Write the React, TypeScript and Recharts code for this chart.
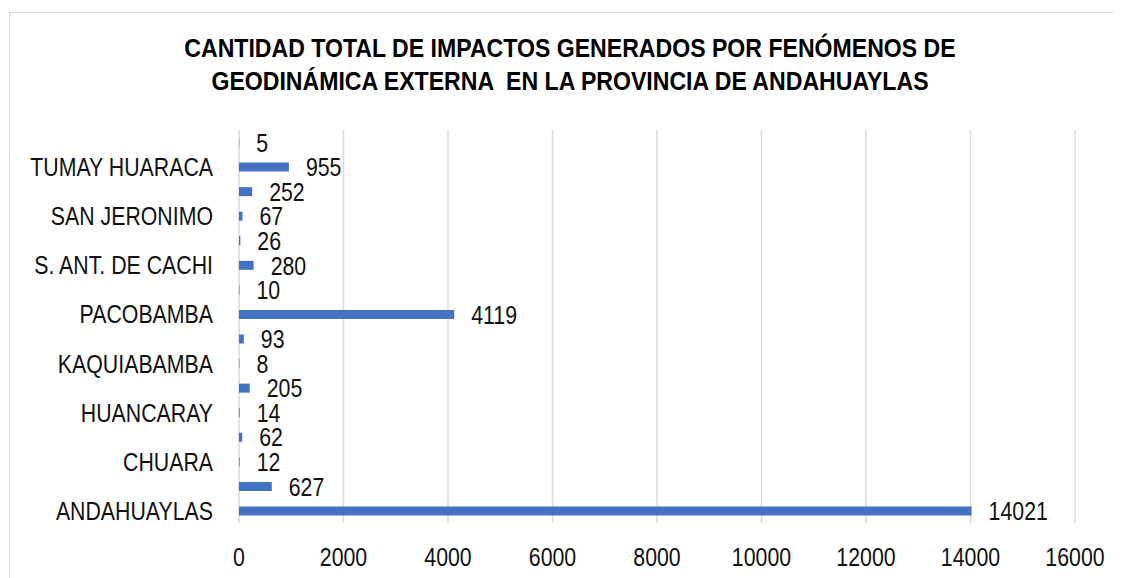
import { Bar, BarChart, CartesianGrid, LabelList, XAxis, YAxis } from 'recharts';

// districts from bottom to top; Excel only labels every other row
const districts = [
  'ANDAHUAYLAS',
  'ANDARAPA',
  'CHUARA',
  'HUANCARAMA',
  'HUANCARAY',
  'HUAYANA',
  'KAQUIABAMBA',
  'KISHUARA',
  'PACOBAMBA',
  'PACUCHA',
  'S. ANT. DE CACHI',
  'S. M. DE CHACCRAMPA',
  'SAN JERONIMO',
  'TALAVERA',
  'TUMAY HUARACA',
  'TURPO',
];
const impactos = [14021, 627, 12, 62, 14, 205, 8, 93, 4119, 10, 280, 26, 67, 252, 955, 5];
const xTicks = [0, 2000, 4000, 6000, 8000, 10000, 12000, 14000, 16000];

const titleLines = [
  'CANTIDAD TOTAL DE IMPACTOS GENERADOS POR FENÓMENOS DE',
  'GEODINÁMICA EXTERNA  EN LA PROVINCIA DE ANDAHUAYLAS',
];

const data = districts.map((d, i) => ({ distrito: d, impactos: impactos[i] }));

// no Arial Narrow available, so squeeze Liberation Sans horizontally
const font = "'Liberation Sans', Arial, sans-serif";
const narrow = 0.82;
const grid = '#d9d9d9';
const ink = '#111';

function NarrowText({ x, y, anchor, dy, children }: any) {
  return (
    <text
      x={0}
      y={0}
      dy={dy}
      transform={`translate(${x} ${y}) scale(${narrow} 1)`}
      textAnchor={anchor}
      fill={ink}
      fontSize={26}
      fontFamily={font}
    >
      {children}
    </text>
  );
}

const XTick = ({ x, y, payload }: any) => (
  <NarrowText x={x} y={y} anchor="middle" dy="0.71em">
    {payload.value}
  </NarrowText>
);

const YTick = ({ x, y, payload }: any) => (
  <NarrowText x={x} y={y} anchor="end" dy="0.355em">
    {payload.value}
  </NarrowText>
);

const ValueLabel = (props: any) => {
  const vb = props.viewBox ?? props;
  const x = Number(vb.x) + Number(vb.width) + 17;
  const y = Number(vb.y) + Number(vb.height) / 2;
  return (
    <NarrowText x={x} y={y} anchor="start" dy="0.355em">
      {props.value}
    </NarrowText>
  );
};

export default function App() {
  return (
    <div style={{ position: 'relative', width: 1113, height: 570, fontFamily: font, overflow: 'hidden' }}>
      {/* chart frame, only top and left edges fall inside the picture */}
      <div
        style={{
          position: 'absolute',
          left: 1,
          top: 4,
          width: 1200,
          height: 700,
          borderLeft: `1.5px solid ${grid}`,
          borderTop: `1.5px solid ${grid}`,
        }}
      />
      <div
        style={{
          position: 'absolute',
          left: 0,
          top: 24,
          width: 1124,
          textAlign: 'center',
          fontSize: 26,
          lineHeight: '33px',
          fontWeight: 'bold',
          color: '#000',
          whiteSpace: 'pre',
          transform: 'scaleX(0.888)',
          transformOrigin: '562px 0',
        }}
      >
        {titleLines.map((t) => (
          <div key={t}>{t}</div>
        ))}
      </div>
      <div style={{ position: 'absolute', left: 0, top: 0 }}>
        <BarChart
          width={1113}
          height={570}
          data={data}
          layout="vertical"
          margin={{ top: 122, right: 46, bottom: 0, left: 0 }}
        >
          <CartesianGrid horizontal={false} stroke={grid} strokeWidth={1.5} />
          <XAxis
            type="number"
            domain={[0, 16000]}
            ticks={xTicks}
            axisLine={false}
            tickLine={false}
            tickSize={0}
            tickMargin={25}
            height={55}
            interval={0}
            tick={<XTick />}
          />
          <YAxis
            type="category"
            dataKey="distrito"
            reversed
            interval={1}
            width={231}
            axisLine={false}
            tickLine={false}
            tickSize={0}
            tickMargin={26}
            tick={<YTick />}
          />
          <Bar dataKey="impactos" fill="#4472c4" barSize={9} isAnimationActive={false}>
            <LabelList dataKey="impactos" content={<ValueLabel />} />
          </Bar>
        </BarChart>
      </div>
    </div>
  );
}
